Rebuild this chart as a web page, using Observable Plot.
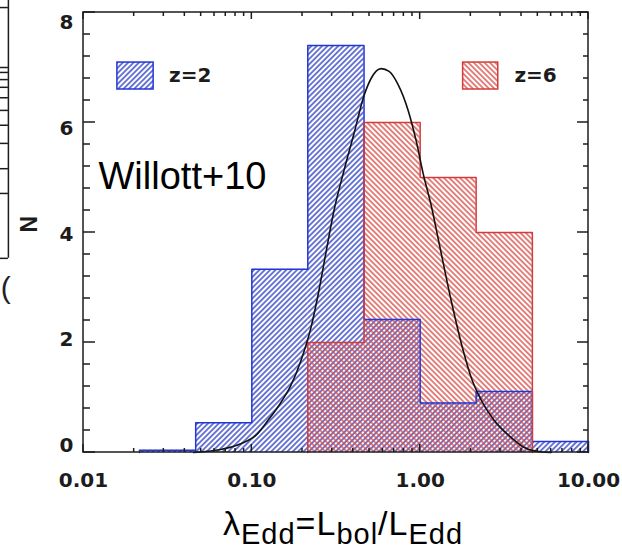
<!DOCTYPE html>
<html>
<head>
<meta charset="utf-8">
<script src="https://cdn.jsdelivr.net/npm/d3@7"></script>
<script src="https://cdn.jsdelivr.net/npm/@observablehq/plot@0.6"></script>
<style>
  body { margin: 0; background: #fff; }
  #chart { position: relative; width: 622px; height: 554px; overflow: hidden; font-family: "Liberation Sans", Arial, sans-serif; }
  #chart svg { position: absolute; left: 0; top: 0; }
  #xlabel { position: absolute; left: 223px; top: 506px; font-size: 34px; line-height: 1; letter-spacing: 1px; white-space: nowrap; color: #000; }
  #xlabel sub { font-size: 29px; vertical-align: -9px; line-height: 0; }
</style>
</head>
<body>
<div id="chart"><div id="xlabel">λ<sub>Edd</sub>=L<sub>bol</sub>/L<sub>Edd</sub></div></div>
<script>
// Eddington-ratio distributions, 1/3-dex bins in λ_Edd
const binEdgesZ2 = [0.0215, 0.0464, 0.1, 0.215, 0.464, 1, 2.15, 4.64, 10];
const countsZ2 = [0.04, 0.54, 3.33, 7.4, 2.42, 0.9, 1.11, 0.2];
const binEdgesZ6 = [0.215, 0.464, 1, 2.15, 4.64];
const countsZ6 = [2, 6, 5, 4];

// Willott+10 log-normal fit, sampled along the curve
const fitLambda = [0.045, 0.0496, 0.0653, 0.086, 0.1056, 0.1245, 0.1488, 0.1706, 0.1957, 0.2245, 0.2506, 0.2758, 0.3077, 0.353, 0.4046, 0.4642, 0.5109, 0.586, 0.6538, 0.7396, 0.8485, 0.9463, 1.042, 1.163, 1.297, 1.529, 1.803, 2.012, 2.307, 2.757, 3.481, 4.159, 5.25, 6.0];
const fitN = [0, 0.01, 0.055, 0.16, 0.31, 0.58, 0.91, 1.22, 1.67, 2.27, 2.95, 3.64, 4.4, 5.13, 5.8, 6.49, 6.8, 6.98, 6.93, 6.69, 6.22, 5.67, 5.07, 4.49, 3.8, 2.76, 1.85, 1.36, 0.95, 0.58, 0.27, 0.09, 0.01, 0];

// axes
const xTicks = [0.01, 0.1, 1, 10];
const xTickLabels = ["0.01", "0.10", "1.00", "10.00"];
const yTicks = [0, 2, 4, 6, 8];
const yTickLabels = ["0", "2", "4", "6", "8"];

// legend
const legendLabels = ["z=2", "z=6"];

// edge of the neighbouring panel, on this panel's scales
const neighbourTicks = [8.09, 7.0, 6.91, 6.78, 6.64, 6.45, 6.22, 5.95, 5.62, 5.16, 4.71];
const neighbourEdge = { x: 0.00358, xOut: 0.0031, xText: 0.00322, yBottom: 3.53, yTop: 8.3, yText: 2.98 };

// layout
const legendBoxes = [
  { x1: 0.0159, x2: 0.0261, y1: 6.6, y2: 7.09, tx: 0.0322, pattern: "hatch-z2", stroke: "#2236d8" },
  { x1: 1.80, x2: 2.91, y1: 6.6, y2: 7.09, tx: 3.63, pattern: "hatch-z6", stroke: "#d23c3c" }
];
const BLUE = "#2236d8", BLUE_HATCH = "#2f41c2";
const RED = "#d23c3c", RED_HATCH = "#d84f49";
const INK = "#1c1c1c";
const tickFont = "DejaVu Sans, sans-serif";
const textFont = "Liberation Sans, Arial, sans-serif";

const bins = (edges, counts) => counts.map((n, i) => ({ x1: edges[i], x2: edges[i + 1], n }));
const outline = (edges, counts) => [
  { x: edges[0], n: 0 },
  ...counts.map((n, i) => ({ x: edges[i], n })),
  { x: edges[edges.length - 1], n: 0 }
];
const fit = fitLambda.map((x, i) => ({ x, n: fitN[i] }));

// hatch fills
function hatchDefs() {
  const defs = d3.create("svg:defs");
  const add = (id, angle, color) => {
    const p = defs.append("pattern")
      .attr("id", id)
      .attr("patternUnits", "userSpaceOnUse")
      .attr("width", 3.8).attr("height", 10)
      .attr("patternTransform", `rotate(${angle})`);
    p.append("line")
      .attr("x1", 1.9).attr("x2", 1.9).attr("y1", -1).attr("y2", 11)
      .attr("stroke", color).attr("stroke-width", 1.4);
  };
  add("hatch-z2", 45, BLUE_HATCH);
  add("hatch-z6", -45, RED_HATCH);
  return defs.node();
}

// box frame with inward-pointing ticks on all four sides
function frameTicks(index, { x, y }) {
  const g = d3.create("svg:g").attr("fill", "none").attr("stroke", INK).attr("stroke-width", 1.5);
  const xl = x(xTicks[0]), xr = x(xTicks[xTicks.length - 1]);
  const yb = y(yTicks[0]), yt = y(yTicks[yTicks.length - 1]);
  const seg = (x1, y1, x2, y2) => g.append("line").attr("x1", x1).attr("y1", y1).attr("x2", x2).attr("y2", y2);
  for (const v of xTicks) {
    seg(x(v), yb, x(v), yb - 8);
    seg(x(v), yt, x(v), yt + 7);
    if (v < 10) for (let k = 2; k <= 9; k++) {
      const xv = x(v * k);
      seg(xv, yb, xv, yb - 4);
      seg(xv, yt, xv, yt + 4);
    }
  }
  for (const v of yTicks) {
    seg(xl, y(v), xl + 12, y(v));
    seg(xr, y(v), xr - 11, y(v));
    if (v < 8) for (let k = 1; k <= 4; k++) {
      const yv = y(v + 0.4 * k);
      seg(xl, yv, xl + 7, yv);
      seg(xr, yv, xr - 5, yv);
    }
  }
  g.append("rect").attr("x", xl).attr("y", yt).attr("width", xr - xl).attr("height", yb - yt);
  return g.node();
}

const plot = Plot.plot({
  width: 622,
  height: 500,
  marginLeft: 83,
  marginRight: 34,
  marginTop: 12,
  marginBottom: 48,
  x: { type: "log", domain: [0.01, 10], axis: null },
  y: { domain: [0, 8], axis: null },
  marks: [
    hatchDefs,
    Plot.rect(bins(binEdgesZ2, countsZ2), { x1: "x1", x2: "x2", y1: 0, y2: "n", fill: "url(#hatch-z2)" }),
    Plot.rect(bins(binEdgesZ6, countsZ6), { x1: "x1", x2: "x2", y1: 0, y2: "n", fill: "url(#hatch-z6)" }),
    Plot.line(outline(binEdgesZ2, countsZ2), { x: "x", y: "n", curve: "step-after", stroke: BLUE, strokeWidth: 1.5 }),
    Plot.line(outline(binEdgesZ6, countsZ6), { x: "x", y: "n", curve: "step-after", stroke: RED, strokeWidth: 1.5 }),
    Plot.line(fit, { x: "x", y: "n", curve: "monotone-x", stroke: "#111", strokeWidth: 1.6 }),
    // legend
    Plot.rect(legendBoxes, { x1: "x1", x2: "x2", y1: "y1", y2: "y2", fill: d => `url(#${d.pattern})`, stroke: "stroke", strokeWidth: 1.5 }),
    Plot.text(legendBoxes, { x: "tx", y: d => (d.y1 + d.y2) / 2, text: (d, i) => legendLabels[i], textAnchor: "start", lineAnchor: "middle", fontFamily: tickFont, fontWeight: "bold", fontSize: 20, fill: INK }),
    frameTicks,
    // tick labels; y labels sit slightly inset toward the middle of the frame
    Plot.text(xTicks, { x: d => d, text: (d, i) => xTickLabels[i], frameAnchor: "bottom", dy: 28, lineAnchor: "middle", fontFamily: tickFont, fontWeight: "bold", fontSize: 20, fill: INK }),
    Plot.text(yTicks, { y: d => 0.13 + 0.96 * d, text: (d, i) => yTickLabels[i], frameAnchor: "left", dx: -10, textAnchor: "end", lineAnchor: "middle", fontFamily: tickFont, fontWeight: "bold", fontSize: 20, fill: INK }),
    Plot.text(["N"], { frameAnchor: "left", dx: -54, rotate: -90, lineAnchor: "middle", fontFamily: textFont, fontWeight: "bold", fontSize: 23, fill: INK }),
    Plot.text(["Willott+10"], { frameAnchor: "top-left", dx: 15, dy: 164, textAnchor: "start", lineAnchor: "middle", fontFamily: textFont, fontSize: 38, fill: "#000" }),
    // neighbouring panel edge
    Plot.ruleY(neighbourTicks, { y: d => d, x1: neighbourEdge.xOut, x2: neighbourEdge.x, stroke: INK, strokeWidth: 1.5 }),
    Plot.ruleY([neighbourEdge.yBottom], { y: d => d, x1: neighbourEdge.xOut, x2: neighbourEdge.x, stroke: INK, strokeWidth: 1.5 }),
    Plot.ruleX([neighbourEdge.x], { x: d => d, y1: neighbourEdge.yBottom, y2: neighbourEdge.yTop, stroke: INK, strokeWidth: 1.5 }),
    Plot.text(["("], { x: [neighbourEdge.xText], y: [neighbourEdge.yText], text: d => d, textAnchor: "start", lineAnchor: "middle", fontFamily: textFont, fontSize: 30, fill: "#222" })
  ]
});

document.getElementById("chart").prepend(plot);
</script>
</body>
</html>
